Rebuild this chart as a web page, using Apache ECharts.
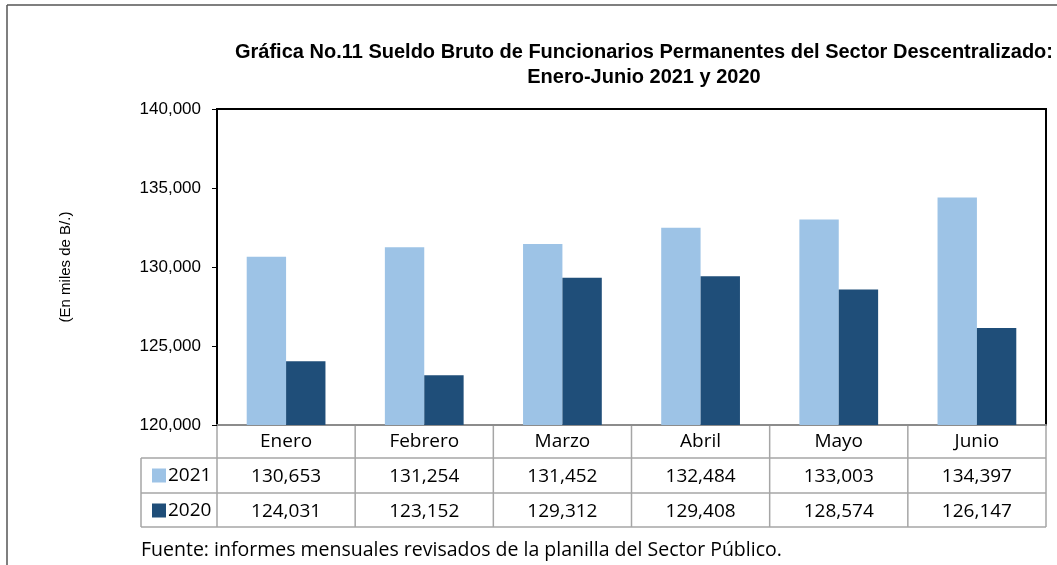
<!DOCTYPE html>
<html>
<head>
<meta charset="utf-8">
<script src="https://cdn.jsdelivr.net/npm/echarts@6/dist/echarts.min.js"></script>
<style>
  html, body { margin: 0; padding: 0; background: #fff; }
  #main { width: 1057px; height: 565px; }
</style>
</head>
<body>
<div id="main"></div>
<script>
var meses = ['Enero', 'Febrero', 'Marzo', 'Abril', 'Mayo', 'Junio'];
var sueldo2021 = [130653, 131254, 131452, 132484, 133003, 134397];
var sueldo2020 = [124031, 123152, 129312, 129408, 128574, 126147];
var yTicks = [120000, 125000, 130000, 135000, 140000];

var colorClaro = '#9DC3E6';
var colorOscuro = '#1F4E79';
var fuenteTabla = '"Open Sans", "Noto Sans", sans-serif';
var fuenteArial = '"Liberation Sans", Arial, sans-serif';

var grafica = {
	gridLeft: 217, gridRight: 11, gridTop: 109, gridBottom: 140,
	init: function(){
		var myChart = echarts.init(document.getElementById('main'));
		myChart.setOption(grafica.getOption());
		// lineas de la tabla de datos
		myChart.setOption({ graphic: grafica.getTabla() });
	},
	fmt: function(v){
		return v.toString().replace(/\B(?=(\d{3})+(?!\d))/g, ',');
	},
	ejeTabla: function(offset, formatter){
		return {
			type: 'category',
			data: meses,
			position: 'bottom',
			offset: offset,
			axisLine: {show: false},
			axisTick: {show: false},
			axisLabel: {
				margin: 19, verticalAlign: 'middle', color: '#000',
				fontFamily: fuenteTabla, fontSize: 19,
				formatter: formatter
			}
		};
	},
	getOption: function(){
		var option = {
			backgroundColor: '#fff',
			animation: false,
			title: {
				text: 'Gráfica No.11 Sueldo Bruto de Funcionarios Permanentes del Sector Descentralizado:\nEnero-Junio 2021 y 2020',
				left: 639, top: 35, textAlign: 'center',
				textStyle: {fontFamily: fuenteArial, fontSize: 20, fontWeight: 'bold', color: '#000', lineHeight: 25}
			},
			legend: {
				orient: 'vertical',
				left: 147, top: 461,
				itemWidth: 14, itemHeight: 14, itemGap: 16,
				icon: 'rect',
				textStyle: {fontFamily: fuenteTabla, fontSize: 19, color: '#000', padding: [0, 0, 0, -3]},
				data: ['2021', '2020']
			},
			grid: {
				left: grafica.gridLeft, right: grafica.gridRight, top: grafica.gridTop, bottom: grafica.gridBottom,
				show: true, borderColor: '#000', borderWidth: 2
			},
			xAxis: [
				{
					type: 'category',
					data: meses,
					axisLine: {lineStyle: {color: '#8c8c8c', width: 2}},
					axisTick: {show: false},
					axisLabel: {margin: 17, verticalAlign: 'middle', color: '#000', fontFamily: fuenteTabla, fontSize: 19}
				},
				grafica.ejeTabla(33, function(v, i){ return grafica.fmt(sueldo2021[i]); }),
				grafica.ejeTabla(68, function(v, i){ return grafica.fmt(sueldo2020[i]); })
			],
			yAxis: {
				type: 'value',
				min: yTicks[0], max: yTicks[yTicks.length - 1], interval: 5000,
				name: '(En miles de B/.)',
				nameLocation: 'middle', nameGap: 144, nameRotate: 90,
				nameTextStyle: {fontFamily: fuenteArial, fontSize: 15, color: '#000'},
				axisLine: {show: true, lineStyle: {color: '#000', width: 2}},
				axisTick: {show: true, length: 5, lineStyle: {color: '#000', width: 1}},
				splitLine: {show: false},
				axisLabel: {
					margin: 16, color: '#000', fontFamily: fuenteArial, fontSize: 17,
					formatter: function(v){ return grafica.fmt(v); }
				}
			},
			series: [
				{name: '2021', type: 'bar', data: sueldo2021, barGap: '0%', barCategoryGap: '43%',
				 itemStyle: {color: colorClaro}},
				{name: '2020', type: 'bar', data: sueldo2020, barGap: '0%', barCategoryGap: '43%',
				 itemStyle: {color: colorOscuro}}
			]
		};
		return option;
	},
	getTabla: function(){
		var W = 1057, H = 565;
		var x0 = grafica.gridLeft, x1 = W - grafica.gridRight;
		var y0 = H - grafica.gridBottom;
		var ancho = (x1 - x0) / meses.length;
		var filas = [y0 + 33, y0 + 68, y0 + 102];
		var xLeyenda = 141;
		var gris = {stroke: '#a6a6a6', lineWidth: 1.5};
		var el = [];
		// marco exterior
		el.push({type: 'line', shape: {x1: 7, y1: 5, x2: W, y2: 5}, style: {stroke: '#555', lineWidth: 1.5}});
		el.push({type: 'line', shape: {x1: 7, y1: 5, x2: 7, y2: H}, style: {stroke: '#555', lineWidth: 1.5}});
		// horizontales
		el.push({type: 'line', shape: {x1: xLeyenda, y1: filas[0], x2: x1, y2: filas[0]}, style: gris});
		el.push({type: 'line', shape: {x1: xLeyenda, y1: filas[1], x2: x1, y2: filas[1]}, style: gris});
		el.push({type: 'line', shape: {x1: xLeyenda, y1: filas[2], x2: x1, y2: filas[2]}, style: gris});
		// verticales
		for (var i = 0; i <= meses.length; i++) {
			var x = x0 + i * ancho;
			el.push({type: 'line', shape: {x1: x, y1: y0, x2: x, y2: filas[2]}, style: gris});
		}
		el.push({type: 'line', shape: {x1: xLeyenda, y1: filas[0], x2: xLeyenda, y2: filas[2]}, style: gris});
		// fuente
		el.push({type: 'text', left: xLeyenda, top: 540,
			style: {text: 'Fuente: informes mensuales revisados de la planilla del Sector Público.',
				fill: '#000', font: '19.5px ' + fuenteTabla}});
		return el;
	}
};

grafica.init();
</script>
</body>
</html>
